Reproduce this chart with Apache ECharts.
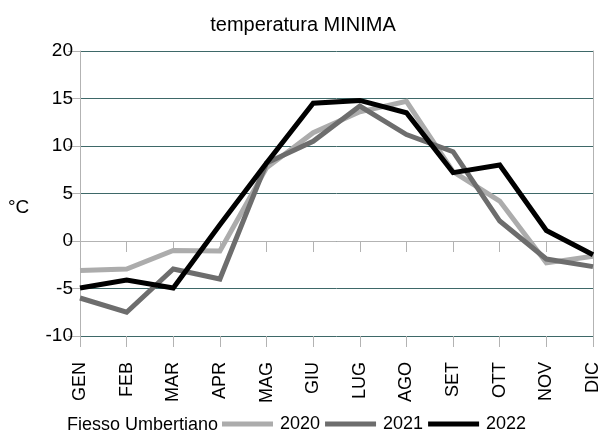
<!DOCTYPE html>
<html>
<head>
<meta charset="utf-8">
<script src="https://cdn.jsdelivr.net/npm/echarts@6/dist/echarts.min.js"></script>
<style>
  html, body { margin: 0; padding: 0; background: #fff; }
  #main { width: 606px; height: 433px; }
</style>
</head>
<body>
<div id="main"></div>
<script>
// mesi
var mesi = ['GEN', 'FEB', 'MAR', 'APR', 'MAG', 'GIU', 'LUG', 'AGO', 'SET', 'OTT', 'NOV', 'DIC'];

// temperatura minima per anno
var min2020 = [-3.1, -2.95, -1.0, -1.05, 7.7, 11.4, 13.6, 14.7, 7.3, 4.2, -2.3, -1.6];
var min2021 = [-6.0, -7.5, -2.95, -4.0, 8.2, 10.5, 14.2, 11.2, 9.4, 2.1, -1.9, -2.7];
var min2022 = [-4.95, -4.1, -4.95, 1.7, 8.2, 14.5, 14.8, 13.5, 7.2, 8.0, 1.1, -1.45];

var yTicks = [-10, -5, 0, 5, 10, 15, 20];

var font = 'Liberation Sans';
var gridColor = '#3e6868';
var axisColor = '#b3b3b3';

var chart = echarts.init(document.getElementById('main'), null, { renderer: 'canvas' });

function serie(name, data, color) {
  return {
    name: name,
    type: 'line',
    data: data,
    symbol: 'none',
    smooth: false,
    lineStyle: { color: color, width: 5, join: 'miter' },
    itemStyle: { color: color }
  };
}

var option = {
  animation: false,
  backgroundColor: '#fff',
  textStyle: { fontFamily: font },
  title: {
    text: 'temperatura MINIMA',
    left: 'center',
    top: 10,
    textStyle: { fontFamily: font, fontSize: 20, fontWeight: 'normal', color: '#000' }
  },
  graphic: [
    {
      type: 'text', left: 8, top: 198,
      style: { text: '°C', font: '19px "Liberation Sans"', fill: '#000' }
    },
    {
      type: 'text', right: 388, top: 416,
      style: { text: 'Fiesso Umbertiano', font: '18px "Liberation Sans"', fill: '#000' }
    }
  ],
  legend: {
    left: 222,
    top: 415,
    padding: 0,
    itemWidth: 51,
    itemHeight: 5,
    itemGap: 5,
    icon: 'rect',
    textStyle: { fontFamily: font, fontSize: 18, color: '#000', padding: [0, 0, 0, 2] },
    data: ['2020', '2021', '2022']
  },
  grid: { left: 80, right: 13, top: 51, bottom: 97 },
  xAxis: [
    {
      type: 'category',
      data: mesi,
      boundaryGap: false,
      position: 'bottom',
      axisLine: { show: false, onZero: false },
      axisTick: { show: true, length: 11, lineStyle: { color: axisColor } },
      axisLabel: { rotate: 90, margin: 26, fontFamily: font, fontSize: 18, color: '#000' },
      splitLine: { show: false }
    },
    {
      type: 'category',
      data: mesi,
      boundaryGap: false,
      position: 'bottom',
      axisLine: { show: true, onZero: true, lineStyle: { color: axisColor, width: 1 } },
      axisTick: { show: true, length: 11, lineStyle: { color: axisColor } },
      axisLabel: { show: false },
      splitLine: { show: false }
    }
  ],
  yAxis: [
    {
      type: 'value',
      min: yTicks[0],
      max: yTicks[yTicks.length - 1],
      interval: 5,
      axisLine: { show: true, lineStyle: { color: axisColor } },
      axisTick: { show: true, length: 12, lineStyle: { color: axisColor } },
      axisLabel: { margin: 7, fontFamily: font, fontSize: 19, color: '#000' },
      splitLine: { show: true, lineStyle: { color: gridColor, width: 1 } }
    },
    {
      type: 'value',
      position: 'right',
      min: yTicks[0],
      max: yTicks[yTicks.length - 1],
      interval: 5,
      axisLine: { show: true, lineStyle: { color: axisColor } },
      axisTick: { show: false },
      axisLabel: { show: false },
      splitLine: { show: false }
    }
  ],
  series: [
    serie('2020', min2020, '#acacac'),
    serie('2021', min2021, '#6d6d6d'),
    serie('2022', min2022, '#000000')
  ]
};

chart.setOption(option);
</script>
</body>
</html>
